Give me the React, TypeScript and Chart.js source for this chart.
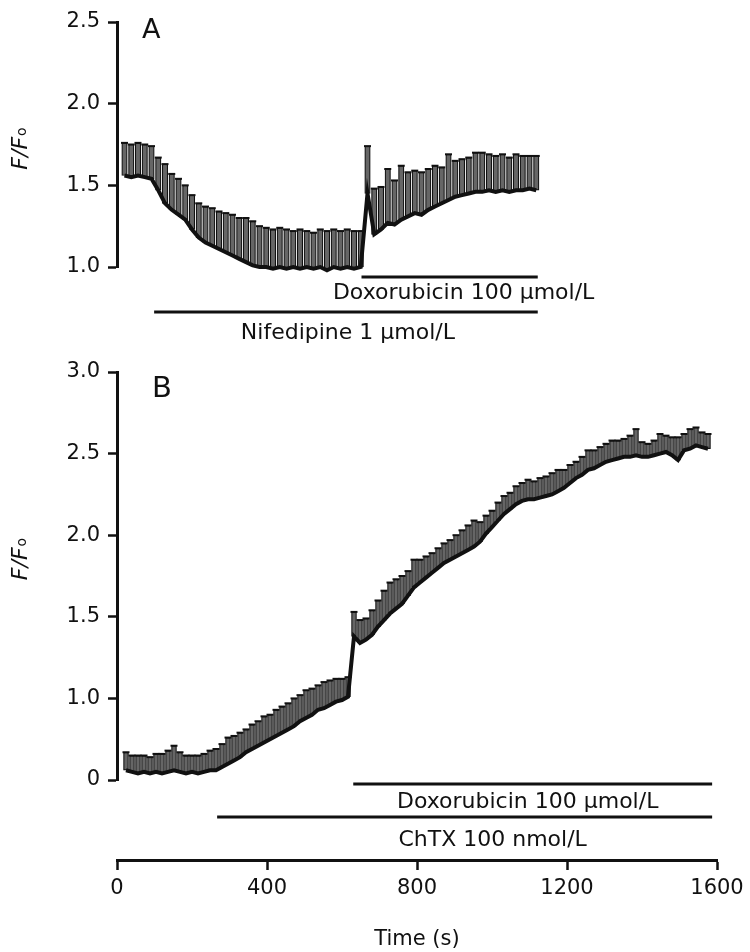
import React, { useEffect, useRef } from "react";
import { Chart, registerables } from "chart.js";

Chart.register(...registerables);

const FONT = '"DejaVu Sans", "Liberation Sans", sans-serif';
const INK = "#111111";
const BAR_FILL = "#666666";

// ---------- Panel A (Nifedipine, then Doxorubicin) ----------
const timeA = [
  20, 38, 56, 74, 92, 110, 128, 146, 164, 182,
  200, 218, 236, 254, 272, 290, 308, 326, 344, 362,
  380, 398, 416, 434, 452, 470, 488, 506, 524, 542,
  560, 578, 596, 614, 632, 650, 668, 686, 704, 722,
  740, 758, 776, 794, 812, 830, 848, 866, 884, 902,
  920, 938, 956, 974, 992, 1010, 1028, 1046, 1064, 1082,
  1100, 1118,
];
const meanA = [
  1.56, 1.55, 1.56, 1.55, 1.54, 1.47, 1.39, 1.35, 1.32, 1.29,
  1.23, 1.18, 1.15, 1.13, 1.11, 1.09, 1.07, 1.05, 1.03, 1.01,
  1.0, 1.0, 0.99, 1.0, 0.99, 1.0, 0.99, 1.0, 0.99, 1.0,
  0.98, 1.0, 0.99, 1.0, 0.99, 1.0, 1.45, 1.2, 1.23, 1.27,
  1.26, 1.29, 1.31, 1.33, 1.32, 1.35, 1.37, 1.39, 1.41, 1.43,
  1.44, 1.45, 1.46, 1.46, 1.47, 1.46, 1.47, 1.46, 1.47, 1.47,
  1.48, 1.47,
];
const semA = [
  0.2, 0.2, 0.2, 0.2, 0.2, 0.2, 0.24, 0.22, 0.22, 0.21,
  0.21, 0.21, 0.22, 0.23, 0.23, 0.24, 0.25, 0.25, 0.27, 0.27,
  0.25, 0.24, 0.24, 0.24, 0.24, 0.22, 0.24, 0.22, 0.22, 0.23,
  0.24, 0.23, 0.23, 0.23, 0.23, 0.22, 0.29, 0.28, 0.26, 0.33,
  0.27, 0.33, 0.27, 0.26, 0.26, 0.25, 0.25, 0.22, 0.28, 0.22,
  0.22, 0.22, 0.24, 0.24, 0.22, 0.22, 0.22, 0.21, 0.22, 0.21,
  0.2, 0.21,
];
const yTicksA = [1.0, 1.5, 2.0, 2.5];
const yTickLabelsA = ["1.0", "1.5", "2.0", "2.5"];
const treatmentsA = [
  { label: "Doxorubicin 100 \u03bcmol/L", start: 652, end: 1122 },
  { label: "Nifedipine 1 \u03bcmol/L", start: 99, end: 1122 },
];

// ---------- Panel B (ChTX, then Doxorubicin) ----------
const timeB = [
  24, 40, 56, 72, 88, 104, 120, 136, 152, 168,
  184, 200, 216, 232, 248, 264, 280, 296, 312, 328,
  344, 360, 376, 392, 408, 424, 440, 456, 472, 488,
  504, 520, 536, 552, 568, 584, 600, 616, 632, 648,
  664, 680, 696, 712, 728, 744, 760, 776, 792, 808,
  824, 840, 856, 872, 888, 904, 920, 936, 952, 968,
  984, 1000, 1016, 1032, 1048, 1064, 1080, 1096, 1112, 1128,
  1144, 1160, 1176, 1192, 1208, 1224, 1240, 1256, 1272, 1288,
  1304, 1320, 1336, 1352, 1368, 1384, 1400, 1416, 1432, 1448,
  1464, 1480, 1496, 1512, 1528, 1544, 1560, 1576,
];
const meanB = [
  0.56, 0.55, 0.54, 0.55, 0.54, 0.55, 0.54, 0.55, 0.56, 0.55,
  0.54, 0.55, 0.54, 0.55, 0.56, 0.56, 0.58, 0.6, 0.62, 0.64,
  0.67, 0.69, 0.71, 0.73, 0.75, 0.77, 0.79, 0.81, 0.83, 0.86,
  0.88, 0.9, 0.93, 0.94, 0.96, 0.98, 0.99, 1.01, 1.38, 1.34,
  1.36, 1.39, 1.44, 1.48, 1.52, 1.55, 1.58, 1.63, 1.68, 1.71,
  1.74, 1.77, 1.8, 1.83, 1.85, 1.87, 1.89, 1.91, 1.93, 1.96,
  2.01, 2.05, 2.09, 2.13, 2.16, 2.19, 2.21, 2.22, 2.22, 2.23,
  2.24, 2.25, 2.27, 2.29, 2.32, 2.35, 2.37, 2.4, 2.41, 2.43,
  2.45, 2.46, 2.47, 2.48, 2.48, 2.49, 2.48, 2.48, 2.49, 2.5,
  2.51, 2.49, 2.46, 2.52, 2.53, 2.55, 2.54, 2.53,
];
const semB = [
  0.11, 0.1, 0.11, 0.1, 0.1, 0.11, 0.12, 0.13, 0.15, 0.12,
  0.11, 0.1, 0.11, 0.11, 0.12, 0.13, 0.14, 0.16, 0.15, 0.15,
  0.14, 0.15, 0.15, 0.16, 0.15, 0.16, 0.16, 0.16, 0.17, 0.16,
  0.17, 0.16, 0.15, 0.16, 0.15, 0.14, 0.13, 0.12, 0.15, 0.14,
  0.13, 0.15, 0.16, 0.18, 0.19, 0.18, 0.17, 0.15, 0.17, 0.14,
  0.13, 0.12, 0.12, 0.12, 0.12, 0.13, 0.14, 0.15, 0.16, 0.12,
  0.11, 0.1, 0.11, 0.11, 0.1, 0.11, 0.11, 0.12, 0.11, 0.12,
  0.12, 0.13, 0.13, 0.11, 0.11, 0.1, 0.11, 0.12, 0.11, 0.11,
  0.11, 0.12, 0.11, 0.11, 0.13, 0.16, 0.09, 0.08, 0.09, 0.12,
  0.1, 0.11, 0.14, 0.1, 0.12, 0.11, 0.09, 0.09,
];
const yTicksB = [0.5, 1.0, 1.5, 2.0, 2.5, 3.0];
const yTickLabelsB = ["0", "1.0", "1.5", "2.0", "2.5", "3.0"];
const treatmentsB = [
  { label: "Doxorubicin 100 \u03bcmol/L", start: 630, end: 1587 },
  { label: "ChTX 100 nmol/L", start: 267, end: 1587 },
];

// ---------- shared time axis ----------
const xTicks = [0, 400, 800, 1200, 1600];
const xTickLabels = ["0", "400", "800", "1200", "1600"];
const X_MIN = 0;
const X_MAX = 1600;

// ---------- plugin: panel letter, y title with subscript, treatment bars ----------
const decorPlugin = {
  id: "decor",
  afterDraw(chart: any, _args: any, opts: any) {
    const { ctx, chartArea: ca, scales } = chart;
    ctx.save();
    ctx.fillStyle = INK;
    ctx.strokeStyle = INK;
    if (opts.letter) {
      ctx.font = `${opts.letterSize}px ${FONT}`;
      ctx.textAlign = "left";
      ctx.textBaseline = "alphabetic";
      ctx.fillText(opts.letter, ca.left + opts.letterDx, ca.top + opts.letterDy);
    }
    if (opts.yTitle) {
      const cy = (ca.top + ca.bottom) / 2 + opts.yTitleDy;
      ctx.translate(opts.yTitleX, cy);
      ctx.rotate(-Math.PI / 2);
      ctx.textAlign = "left";
      ctx.textBaseline = "alphabetic";
      ctx.font = `italic 22px ${FONT}`;
      const wMain = ctx.measureText(opts.yTitle).width;
      ctx.font = `14px ${FONT}`;
      const wSub = ctx.measureText(opts.yTitleSub).width;
      const x0 = -(wMain + wSub + 1) / 2;
      ctx.font = `italic 22px ${FONT}`;
      ctx.fillText(opts.yTitle, x0, 9);
      ctx.font = `14px ${FONT}`;
      ctx.fillText(opts.yTitleSub, x0 + wMain + 1, 8);
      ctx.setTransform(1, 0, 0, 1, 0, 0);
    }
    if (opts.treatments && scales.x) {
      const xs = scales.x;
      ctx.font = `22px ${FONT}`;
      ctx.textAlign = "center";
      ctx.textBaseline = "middle";
      ctx.lineWidth = 3;
      opts.treatments.forEach((t: any, i: number) => {
        const r = opts.rows[i];
        const x1 = xs.getPixelForValue(t.start);
        const x2 = xs.getPixelForValue(t.end);
        const yl = ca.bottom + r.line;
        ctx.beginPath();
        ctx.moveTo(x1, yl);
        ctx.lineTo(x2, yl);
        ctx.stroke();
        ctx.fillText(t.label, (x1 + x2) / 2 + r.dx, ca.bottom + r.text);
      });
    }
    ctx.restore();
  },
};

function errorBarDatasets(times: number[], mean: number[], sem: number[], thickness: number) {
  return [
    {
      type: "line",
      data: times.map((t, i) => ({ x: t, y: mean[i] })),
      borderColor: INK,
      borderWidth: 4,
      pointRadius: 0,
      tension: 0,
      order: 0,
      clip: false,
    },
    {
      type: "line",
      data: times.map((t, i) => ({ x: t, y: mean[i] + sem[i] })),
      showLine: false,
      pointStyle: "line",
      pointRadius: 3.5,
      pointBorderWidth: 2,
      pointBorderColor: INK,
      borderColor: INK,
      order: 1,
      clip: false,
    },
    {
      type: "bar",
      data: times.map((t, i) => ({ x: t, y: [mean[i], mean[i] + sem[i]] })),
      backgroundColor: BAR_FILL,
      borderColor: INK,
      borderWidth: 1.2,
      borderSkipped: false,
      barThickness: thickness,
      order: 2,
      clip: false,
    },
  ];
}

function yAxis(min: number, max: number, values: number[], labels: string[]) {
  return {
    type: "linear",
    min,
    max,
    afterBuildTicks: (s: any) => {
      s.ticks = values.map((v) => ({ value: v }));
    },
    afterFit: (s: any) => {
      s.width = 117;
    },
    ticks: {
      callback: (_v: any, i: number) => labels[i],
      font: { family: FONT, size: 21 },
      color: INK,
      padding: 8,
    },
    grid: {
      display: true,
      drawOnChartArea: false,
      drawTicks: true,
      tickLength: 9,
      tickWidth: 2.5,
      tickColor: INK,
      color: INK,
    },
    border: { display: true, color: INK, width: 3 },
  };
}

const hiddenX = {
  type: "linear",
  display: false,
  min: X_MIN,
  max: X_MAX,
  offset: false,
  grid: { offset: false },
};

export default function App() {
  const refA = useRef<HTMLCanvasElement>(null);
  const refB = useRef<HTMLCanvasElement>(null);
  const refC = useRef<HTMLCanvasElement>(null);

  useEffect(() => {
    const common = {
      responsive: false,
      animation: false,
      devicePixelRatio: 1,
      events: [],
    };
    const chartA = new Chart(refA.current as HTMLCanvasElement, {
      type: "bar",
      data: { datasets: errorBarDatasets(timeA, meanA, semA, 5.5) as any },
      plugins: [decorPlugin as any],
      options: {
        ...common,
        layout: { padding: { left: 0, right: 33, top: 22, bottom: 83 } },
        plugins: {
          legend: { display: false },
          tooltip: { enabled: false },
          decor: {
            letter: "A",
            letterSize: 27,
            letterDx: 25,
            letterDy: 16,
            yTitle: "F/F",
            yTitleSub: "o",
            yTitleX: 18,
            yTitleDy: 4,
            treatments: treatmentsA,
            rows: [
              { line: 10, text: 26, dx: 14 },
              { line: 45, text: 66, dx: 2 },
            ],
          },
        } as any,
        scales: {
          x: hiddenX as any,
          y: yAxis(1.0, 2.5, yTicksA, yTickLabelsA) as any,
        },
      } as any,
    });

    const chartB = new Chart(refB.current as HTMLCanvasElement, {
      type: "bar",
      data: { datasets: errorBarDatasets(timeB, meanB, semB, 5) as any },
      plugins: [decorPlugin as any],
      options: {
        ...common,
        layout: { padding: { left: 0, right: 33, top: 32, bottom: 75 } },
        plugins: {
          legend: { display: false },
          tooltip: { enabled: false },
          decor: {
            letter: "B",
            letterSize: 29,
            letterDx: 35,
            letterDy: 25,
            yTitle: "F/F",
            yTitleSub: "o",
            yTitleX: 18,
            yTitleDy: -17,
            treatments: treatmentsB,
            rows: [
              { line: 4, text: 22, dx: -5 },
              { line: 37, text: 60, dx: 28 },
            ],
          },
        } as any,
        scales: {
          x: hiddenX as any,
          y: yAxis(0.5, 3.0, yTicksB, yTickLabelsB) as any,
        },
      } as any,
    });

    const chartC = new Chart(refC.current as HTMLCanvasElement, {
      type: "line",
      data: { datasets: [] },
      options: {
        ...common,
        layout: { padding: { left: 117, right: 33, top: 0, bottom: 0 } },
        plugins: { legend: { display: false }, tooltip: { enabled: false } },
        scales: {
          x: {
            type: "linear",
            min: X_MIN,
            max: X_MAX,
            afterBuildTicks: (s: any) => {
              s.ticks = xTicks.map((v) => ({ value: v }));
            },
            afterFit: (s: any) => {
              s.height = 92;
            },
            ticks: {
              callback: (_v: any, i: number) => xTickLabels[i],
              font: { family: FONT, size: 21 },
              color: INK,
              padding: 6,
              maxRotation: 0,
            },
            grid: {
              display: true,
              drawOnChartArea: false,
              drawTicks: true,
              tickLength: 10,
              tickWidth: 2.5,
              tickColor: INK,
              color: INK,
            },
            border: { display: true, color: INK, width: 3 },
            title: {
              display: true,
              text: "Time (s)",
              font: { family: FONT, size: 21 },
              color: INK,
              padding: 0,
            },
          },
          y: { display: false, min: 0, max: 1 },
        },
      } as any,
    });

    return () => {
      chartA.destroy();
      chartB.destroy();
      chartC.destroy();
    };
  }, []);

  const cv = (top: number, h: number) => ({
    position: "absolute" as const,
    left: 0,
    top,
    width: 750,
    height: h,
  });

  return (
    <div
      style={{
        position: "absolute",
        left: 0,
        top: 0,
        width: 750,
        height: 952,
        background: "#ffffff",
        overflow: "hidden",
      }}
    >
      <canvas ref={refA} width={750} height={350} style={cv(0, 350)} />
      <canvas ref={refB} width={750} height={515} style={cv(340, 515)} />
      <canvas ref={refC} width={750} height={97} style={cv(855, 97)} />
    </div>
  );
}
